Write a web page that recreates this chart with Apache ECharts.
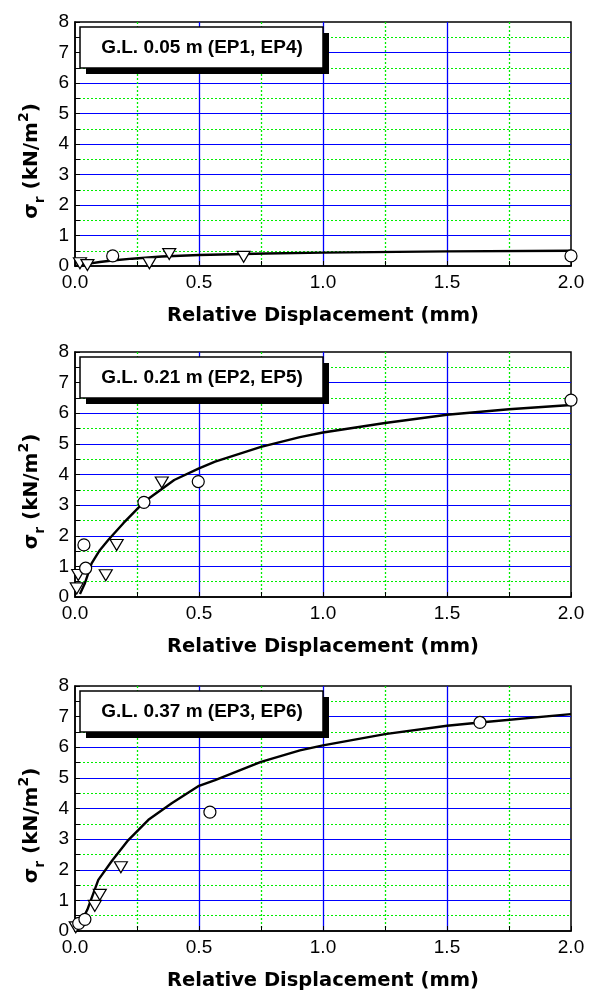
<!DOCTYPE html>
<html>
<head>
<meta charset="utf-8">
<script src="https://cdn.jsdelivr.net/npm/echarts@6/dist/echarts.min.js"></script>
<style>
html,body{margin:0;padding:0;background:#fff;}
#c{width:593px;height:994px;}
</style>
</head>
<body>
<div id="c"></div>
<script>
// ---------- data ----------
const panelLabels = ['G.L. 0.05 m (EP1, EP4)', 'G.L. 0.21 m (EP2, EP5)', 'G.L. 0.37 m (EP3, EP6)'];
const xTitle = 'Relative Displacement (mm)';

// Panel 1
const p1CircleX = [0.152, 2.0];
const p1CircleY = [0.33, 0.33];
const p1TriX = [0.02, 0.05, 0.30, 0.38, 0.68];
const p1TriY = [0.09, 0.03, 0.09, 0.39, 0.30];
const p1CurveX = [0.0, 0.05, 0.1, 0.15, 0.23, 0.35, 0.5, 0.77, 1.0, 1.5, 2.0];
const p1CurveY = [0.0, 0.07, 0.13, 0.18, 0.24, 0.31, 0.36, 0.41, 0.44, 0.48, 0.50];

// Panel 2
const p2CircleX = [0.036, 0.043, 0.278, 0.497, 2.0];
const p2CircleY = [1.70, 0.94, 3.09, 3.77, 6.43];
const p2TriX = [0.007, 0.013, 0.124, 0.168, 0.35];
const p2TriY = [0.28, 0.72, 0.71, 1.70, 3.74];
const p2CurveX = [0.02, 0.04, 0.067, 0.1, 0.134, 0.195, 0.278, 0.4, 0.5, 0.565, 0.75, 0.907, 1.0, 1.25, 1.5, 1.75, 2.0];
const p2CurveY = [0.10, 0.45, 1.10, 1.53, 1.86, 2.41, 3.10, 3.82, 4.20, 4.42, 4.90, 5.22, 5.37, 5.68, 5.95, 6.13, 6.27];

// Panel 3
const p3CircleX = [0.015, 0.04, 0.544, 1.633];
const p3CircleY = [0.25, 0.38, 3.88, 6.81];
const p3TriX = [0.003, 0.08, 0.10, 0.185];
const p3TriY = [0.12, 0.82, 1.18, 2.08];
const p3CurveX = [0.007, 0.05, 0.094, 0.15, 0.215, 0.296, 0.39, 0.5, 0.565, 0.75, 0.907, 1.0, 1.25, 1.5, 1.633, 2.0];
const p3CurveY = [0.0, 0.70, 1.67, 2.30, 2.97, 3.63, 4.17, 4.74, 4.93, 5.52, 5.90, 6.06, 6.43, 6.70, 6.81, 7.08];

// ---------- chart ----------
const zip = (a, b) => a.map((v, i) => [v, b[i]]);
const panels = [
  {cx: p1CircleX, cy: p1CircleY, tx: p1TriX, ty: p1TriY, lx: p1CurveX, ly: p1CurveY},
  {cx: p2CircleX, cy: p2CircleY, tx: p2TriX, ty: p2TriY, lx: p2CurveX, ly: p2CurveY},
  {cx: p3CircleX, cy: p3CircleY, tx: p3TriX, ty: p3TriY, lx: p3CurveX, ly: p3CurveY}
];
const gridTops = [22, 352, 686];
const gridHeights = [244, 245, 245];
const FONT = '"Liberation Sans", Arial, sans-serif';
const TFONT = '"DejaVu Sans", "Liberation Sans", sans-serif';

const grids = [], xAxes = [], yAxes = [], series = [], graphics = [];
panels.forEach((p, i) => {
  grids.push({left: 75, top: gridTops[i], width: 496, height: gridHeights[i],
    show: true, borderColor: '#000', borderWidth: 1.5, backgroundColor: '#fff'});
  xAxes.push({
    type: 'value', gridIndex: i, min: 0, max: 2, interval: 0.5,
    name: xTitle, nameLocation: 'middle', nameGap: 40,
    nameTextStyle: {fontFamily: TFONT, fontWeight: 'bold', fontSize: 19.5, color: '#000'},
    axisLine: {show: true, lineStyle: {color: '#000', width: 1.5}},
    axisTick: {show: true, inside: true, length: 5, lineStyle: {color: '#000'}},
    minorTick: {show: true, splitNumber: 2, length: 5, lineStyle: {color: '#000'}},
    axisLabel: {fontFamily: FONT, fontSize: 19, color: '#000', margin: 7,
      formatter: v => v.toFixed(1), showMaxLabel: true, showMinLabel: true},
    splitLine: {show: true, showMinLine: false, showMaxLine: false, lineStyle: {color: '#0000ff', width: 1.3}},
    minorSplitLine: {show: true, lineStyle: {color: '#00ee00', width: 1.3, type: [2, 2]}}
  });
  yAxes.push({
    type: 'value', gridIndex: i, min: 0, max: 8, interval: 1,
    name: '{b|σ}{s|r}{b| (kN/m}{p|2}{b|)}', nameLocation: 'middle', nameGap: 28, nameRotate: 90,
    nameTextStyle: {fontFamily: TFONT, fontWeight: 'bold', fontSize: 20, color: '#000', padding: [0, 34, 0, 0],
      rich: {
        b: {fontFamily: TFONT, fontWeight: 'bold', fontSize: 20, color: '#000', lineHeight: 30},
        s: {fontFamily: TFONT, fontWeight: 'bold', fontSize: 14, color: '#000', verticalAlign: 'bottom', lineHeight: 30},
        p: {fontFamily: TFONT, fontWeight: 'bold', fontSize: 14, color: '#000', verticalAlign: 'top', lineHeight: 30}
      }},
    axisLine: {show: true, lineStyle: {color: '#000', width: 1.5}},
    axisTick: {show: true, inside: true, length: 5, lineStyle: {color: '#000'}},
    minorTick: {show: true, splitNumber: 2, length: 5, lineStyle: {color: '#000'}},
    axisLabel: {fontFamily: FONT, fontSize: 19, color: '#000', margin: 6},
    splitLine: {show: true, showMinLine: false, showMaxLine: false, lineStyle: {color: '#0000ff', width: 1}},
    minorSplitLine: {show: true, lineStyle: {color: '#00ee00', width: 1, type: [2, 2]}}
  });
  series.push({
    type: 'line', xAxisIndex: i, yAxisIndex: i, data: zip(p.lx, p.ly),
    showSymbol: false, smooth: false, lineStyle: {color: '#000', width: 2.4}, z: 3, silent: true
  });
  series.push({
    type: 'scatter', xAxisIndex: i, yAxisIndex: i, data: zip(p.tx, p.ty),
    symbol: 'triangle', symbolRotate: 180, symbolSize: [13, 11],
    itemStyle: {color: '#fff', borderColor: '#000', borderWidth: 1.2, opacity: 1}, z: 4
  });
  series.push({
    type: 'scatter', xAxisIndex: i, yAxisIndex: i, data: zip(p.cx, p.cy),
    symbol: 'circle', symbolSize: 12,
    itemStyle: {color: '#fff', borderColor: '#000', borderWidth: 1.2, opacity: 1}, z: 5
  });
  // label box with hard shadow
  const bt = gridTops[i] + 5;
  graphics.push({type: 'rect', shape: {x: 86, y: bt + 6, width: 243, height: 41}, style: {fill: '#000'}, z: 100});
  graphics.push({type: 'rect', shape: {x: 80, y: bt, width: 243, height: 41}, style: {fill: '#fff', stroke: '#000', lineWidth: 1.5}, z: 101});
  graphics.push({type: 'text', x: 202, y: bt + 21, style: {text: panelLabels[i], font: 'bold 19px ' + FONT, fill: '#000', align: 'center', verticalAlign: 'middle'}, z: 102});
});

const chart = echarts.init(document.getElementById('c'), null, {renderer: 'canvas'});
chart.setOption({
  animation: false,
  backgroundColor: '#fff',
  grid: grids, xAxis: xAxes, yAxis: yAxes, series: series, graphic: graphics
});
</script>
</body>
</html>
